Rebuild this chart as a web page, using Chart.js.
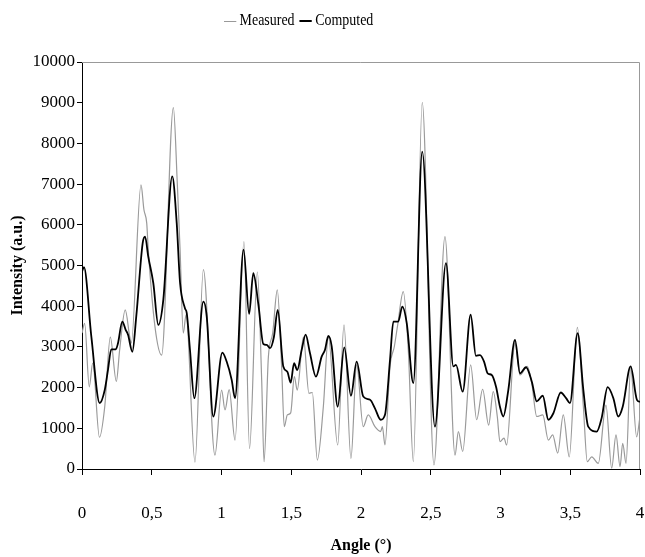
<!DOCTYPE html>
<html>
<head>
<meta charset="utf-8">
<title>Measured vs Computed</title>
<script src="https://cdn.jsdelivr.net/npm/chart.js@4/dist/chart.umd.min.js"></script>
<style>
  body { margin: 0; background: #fff; }
  #wrap { position: relative; width: 645px; height: 557px; }
  #legend {
    position: absolute; top: 10px; left: 224px;
    font-family: "Liberation Serif", serif; font-size: 17px; color: #000;
    white-space: nowrap;
    transform: scaleX(0.82); transform-origin: left top;
  }
  .key { display: inline-block; width: 15px; vertical-align: middle; margin-right: 4px; }
</style>
</head>
<body>
<div id="wrap">
  <canvas id="chart" width="645" height="557"></canvas>
  <div id="legend">
    <span class="key" style="border-top: 1px solid #999;"></span>Measured
    <span class="key" style="border-top: 2px solid #000; margin-left: 2px;"></span>Computed
  </div>
</div>
<script>
// computed curve (black)
const computedAngle = [
  0.000, 0.014, 0.067, 0.127, 0.163, 0.186, 0.210, 0.242, 0.258, 0.289,
  0.313, 0.330, 0.361, 0.389, 0.435, 0.452, 0.475, 0.511, 0.547, 0.583,
  0.647, 0.679, 0.703, 0.738, 0.751, 0.774, 0.805, 0.870, 0.894, 0.941,
  1.006, 1.037, 1.073, 1.097, 1.158, 1.198, 1.228, 1.264, 1.300, 1.324,
  1.348, 1.376, 1.403, 1.443, 1.472, 1.496, 1.520, 1.543, 1.575, 1.603,
  1.634, 1.677, 1.718, 1.742, 1.766, 1.790, 1.833, 1.880, 1.928, 1.969,
  2.016, 2.065, 2.100, 2.141, 2.172, 2.208, 2.232, 2.267, 2.296, 2.328,
  2.375, 2.439, 2.530, 2.609, 2.662, 2.681, 2.729, 2.786, 2.824, 2.853,
  2.882, 2.908, 2.937, 2.968, 2.996, 3.020, 3.056, 3.104, 3.140, 3.183,
  3.224, 3.260, 3.303, 3.343, 3.379, 3.432, 3.470, 3.498, 3.553, 3.594,
  3.629, 3.690, 3.725, 3.768, 3.809, 3.844, 3.876, 3.933, 3.978, 4.000
];
const computedIntensity = [
  4850, 4960, 3250, 1620, 1940, 2430, 2940, 2940, 3090, 3620,
  3420, 3300, 2880, 3750, 5550, 5710, 5220, 4570, 3540, 4160,
  7190, 6040, 4570, 3950, 3830, 2930, 1740, 4110, 3750, 1290,
  2860, 2640, 2190, 1740, 5390, 3810, 4810, 4050, 3070, 3050,
  2970, 3250, 3910, 2520, 2390, 2120, 2600, 2430, 2930, 3300,
  2850, 2270, 2760, 2930, 3270, 3010, 1530, 2990, 1800, 2640,
  1780, 1700, 1490, 1210, 1330, 2680, 3620, 3620, 3990, 3580,
  2110, 7800, 1040, 5060, 2520, 2560, 1900, 3790, 2780, 2800,
  2640, 2350, 2310, 2020, 1530, 1290, 1940, 3170, 2350, 2500,
  2150, 1660, 1800, 1210, 1370, 1880, 1740, 1620, 3340, 1940,
  1040, 920, 1250, 2010, 1740, 1290, 1530, 2520, 1700, 1650
];

// measured curve (grey)
const measuredAngle = [
  0.000, 0.019, 0.052, 0.077, 0.125, 0.163, 0.203, 0.246, 0.270, 0.310,
  0.342, 0.353, 0.423, 0.444, 0.464, 0.475, 0.523, 0.571, 0.655, 0.683,
  0.703, 0.726, 0.746, 0.810, 0.870, 0.953, 1.001, 1.025, 1.055, 1.097,
  1.161, 1.201, 1.257, 1.288, 1.305, 1.336, 1.367, 1.400, 1.431, 1.450,
  1.472, 1.496, 1.522, 1.543, 1.587, 1.627, 1.651, 1.687, 1.730, 1.766,
  1.833, 1.878, 1.928, 1.969, 2.016, 2.052, 2.100, 2.141, 2.153, 2.172,
  2.208, 2.239, 2.263, 2.303, 2.339, 2.375, 2.439, 2.523, 2.602, 2.674,
  2.698, 2.729, 2.786, 2.829, 2.872, 2.915, 2.948, 2.977, 2.996, 3.025,
  3.044, 3.104, 3.140, 3.192, 3.224, 3.260, 3.303, 3.343, 3.374, 3.410,
  3.450, 3.493, 3.551, 3.594, 3.622, 3.654, 3.701, 3.756, 3.797, 3.828,
  3.857, 3.876, 3.900, 3.933, 3.976, 4.000
];
const measuredIntensity = [
  3340, 3580, 2020, 2600, 780, 1530, 3240, 2150, 2930, 3910,
  3250, 3090, 6980, 6370, 6040, 5390, 3500, 2800, 8880, 7030,
  5390, 3340, 3790, 170, 4900, 340, 1940, 1450, 1950, 710,
  5590, 500, 4840, 2190, 180, 2750, 3340, 4400, 2520, 1040,
  1330, 1380, 2270, 1940, 3240, 1860, 1880, 220, 1530, 3240,
  590, 3540, 260, 2560, 1040, 1330, 1040, 920, 1040, 590,
  2520, 3010, 3540, 4360, 2930, 180, 9010, 100, 5710, 340,
  920, 430, 2560, 1210, 1960, 1080, 1900, 1290, 670, 760,
  590, 3090, 2310, 2520, 2110, 1290, 1330, 710, 840, 390,
  1330, 300, 3480, 1530, 180, 300, 140, 1570, 20, 840,
  60, 630, 140, 2480, 790, 1290
];

const xTicks = [0, 0.5, 1, 1.5, 2, 2.5, 3, 3.5, 4];
const xTickLabels = ['0', '0,5', '1', '1,5', '2', '2,5', '3', '3,5', '4'];

const serif = '"Liberation Serif", "Times New Roman", serif';

function toPoints(xs, ys) {
  return xs.map((x, i) => ({ x: x, y: ys[i] }));
}

// grey border on the top and right of the plot area
const plotFrame = {
  id: 'plotFrame',
  beforeDatasetsDraw(chart) {
    const ctx = chart.ctx;
    const a = chart.chartArea;
    ctx.save();
    ctx.strokeStyle = '#999999';
    ctx.lineWidth = 1;
    ctx.beginPath();
    ctx.moveTo(a.left, a.top + 0.5);
    ctx.lineTo(a.right - 0.5, a.top + 0.5);
    ctx.lineTo(a.right - 0.5, a.bottom);
    ctx.stroke();
    ctx.restore();
  }
};

new Chart(document.getElementById('chart').getContext('2d'), {
  type: 'line',
  data: {
    datasets: [{
      label: 'Measured',
      data: toPoints(measuredAngle, measuredIntensity),
      borderColor: '#9a9a9a',
      borderWidth: 1.2,
      cubicInterpolationMode: 'monotone',
      order: 1
    }, {
      label: 'Computed',
      data: toPoints(computedAngle, computedIntensity),
      borderColor: '#000000',
      borderWidth: 1.8,
      cubicInterpolationMode: 'monotone',
      order: 0
    }]
  },
  options: {
    responsive: false,
    animation: false,
    layout: { padding: { top: 62, right: 5, left: 0, bottom: 0 } },
    elements: { point: { radius: 0 } },
    plugins: {
      legend: { display: false },
      tooltip: { enabled: false }
    },
    scales: {
      x: {
        type: 'linear',
        min: 0,
        max: 4,
        afterFit: function (scale) {
          scale.height = 88;
          // tick padding is large here, don't let it push the plot edges in
          scale.paddingLeft = 4;
          scale.paddingRight = 4;
        },
        afterBuildTicks: function (scale) {
          scale.ticks = xTicks.map(v => ({ value: v }));
        },
        grid: { drawOnChartArea: false, tickLength: 6, tickColor: '#000' },
        border: { color: '#000', width: 1 },
        ticks: {
          padding: 28,
          color: '#000',
          maxRotation: 0,
          autoSkip: false,
          font: { family: serif, size: 17 },
          callback: function (v) { return xTickLabels[xTicks.indexOf(v)]; }
        },
        title: {
          display: true,
          text: 'Angle (°)',
          color: '#000',
          font: { family: serif, size: 16, weight: 'bold' },
          padding: { top: 0, bottom: 2 }
        }
      },
      y: {
        min: 0,
        max: 10000,
        afterFit: function (scale) { scale.width = 82; },
        grid: { drawOnChartArea: false, tickLength: 5, tickColor: '#000' },
        border: { color: '#000', width: 1 },
        ticks: {
          stepSize: 1000,
          padding: 2,
          color: '#000',
          font: { family: serif, size: 17 },
          callback: function (v) { return String(v); }
        },
        title: {
          display: true,
          text: 'Intensity (a.u.)',
          color: '#000',
          font: { family: serif, size: 16, weight: 'bold' },
          padding: { top: 8, bottom: 0 }
        }
      }
    }
  },
  plugins: [plotFrame]
});
</script>
</body>
</html>
